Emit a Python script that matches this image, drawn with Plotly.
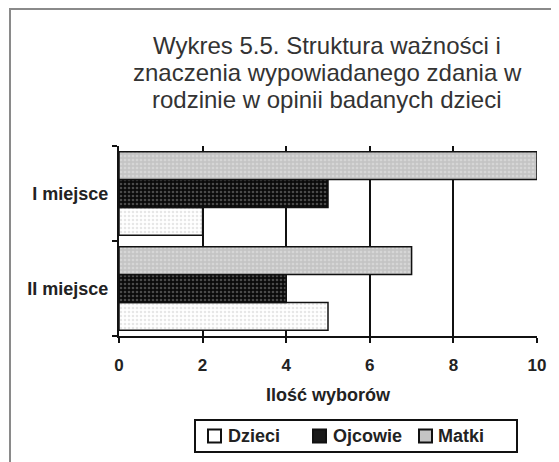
import plotly.graph_objects as go

categories = ["I miejsce", "II miejsce"]
series_names = ["Dzieci", "Ojcowie", "Matki"]
dzieci = [2, 5]
ojcowie = [5, 4]
matki = [10, 7]
x_ticks = [0, 2, 4, 6, 8, 10]
title_lines = ["Wykres 5.5. Struktura ważności i",
               "znaczenia wypowiadanego zdania w",
               "rodzinie w opinii badanych dzieci"]
x_title = "Ilość wyborów"

OFF = 8                      # browser body margin
PW, PH = 559, 462            # page size
W, H = PW - OFF, PH - OFF    # figure size
# plot area in page pixels
L, R, T, B = 119, 537, 146, 336


def px(x):
    return (x - L) / (R - L)


def py(y):
    return (B - y) / (B - T)


styles = {
    "Dzieci": dict(bg="#ffffff", fg="#cfcfcf", leg="#ffffff"),
    "Ojcowie": dict(bg="#0a0a0a", fg="#8a8a8a", leg="#1a1a1a"),
    "Matki": dict(bg="#c4c4c4", fg="#e8e8e8", leg="#c4c4c4"),
}

fig = go.Figure()
for name, vals in zip(series_names, [dzieci, ojcowie, matki]):
    s = styles[name]
    fig.add_trace(go.Bar(
        y=categories, x=vals, name=name, orientation="h", showlegend=False,
        marker=dict(color=s["bg"],
                    line=dict(color="#111", width=1.5),
                    pattern=dict(shape=".", bgcolor=s["bg"], fgcolor=s["fg"],
                                 size=4, solidity=0.35)),
    ))

FONT = "Liberation Sans, Arial, sans-serif"

annotations = []
for line, yc in zip(title_lines, [46, 73, 100]):
    annotations.append(dict(
        text=line, x=px(327), y=py(yc), xref="paper", yref="paper",
        xanchor="center", yanchor="middle", showarrow=False,
        font=dict(family=FONT, size=24, color="#333333")))

shapes = [dict(type="rect", xref="paper", yref="paper",
               x0=px(10), x1=px(620), y0=py(520), y1=py(9),
               line=dict(color="#8a8a8a", width=2), layer="below")]

# legend box (drawn manually to match the reference spacing)
shapes.append(dict(type="rect", xref="paper", yref="paper",
                   x0=px(195), x1=px(517), y0=py(452), y1=py(420),
                   line=dict(color="#111", width=2), fillcolor="white", layer="below"))
leg_sym_x = [208, 313, 419]
leg_txt_x = [226, 331, 436]
leg_y = 436
for name, sx, tx in zip(series_names, leg_sym_x, leg_txt_x):
    shapes.append(dict(type="rect", xref="paper", yref="paper",
                       x0=px(sx), x1=px(sx + 13), y0=py(leg_y + 6.5), y1=py(leg_y - 6.5),
                       line=dict(color="#111", width=2), fillcolor=styles[name]["leg"]))
    annotations.append(dict(
        text=name, x=px(tx), y=py(leg_y), xref="paper", yref="paper",
        xanchor="left", yanchor="middle", showarrow=False,
        font=dict(family=FONT, size=18, color="#222", weight="bold")))

fig.update_layout(
    width=W, height=H,
    margin=dict(l=L - OFF, r=PW - R, t=T - OFF, b=PH - B, pad=0),
    paper_bgcolor="white", plot_bgcolor="white",
    barmode="group", bargap=0.12, bargroupgap=0,
    annotations=annotations,
    shapes=shapes,
    showlegend=False,
    xaxis=dict(range=[0, 10], tickvals=x_ticks, ticks="outside", ticklen=5,
               tickwidth=2, tickcolor="#111", showgrid=True, gridcolor="#111",
               gridwidth=2, showline=True, linecolor="#111", linewidth=2,
               zeroline=False, fixedrange=True, ticklabelstandoff=8,
               tickfont=dict(family=FONT, size=17, color="#222", weight="bold"),
               title=dict(text=x_title, standoff=14,
                          font=dict(family=FONT, size=18, color="#222", weight="bold"))),
    yaxis=dict(categoryorder="array", categoryarray=categories[::-1],
               tickson="boundaries", ticks="outside", ticklen=5, tickwidth=2,
               tickcolor="#111", showline=True, linecolor="#111", linewidth=2,
               showgrid=False, zeroline=False, ticklabelstandoff=5,
               tickfont=dict(family=FONT, size=18, color="#222", weight="bold")),
)

fig.write_html("out.html")
